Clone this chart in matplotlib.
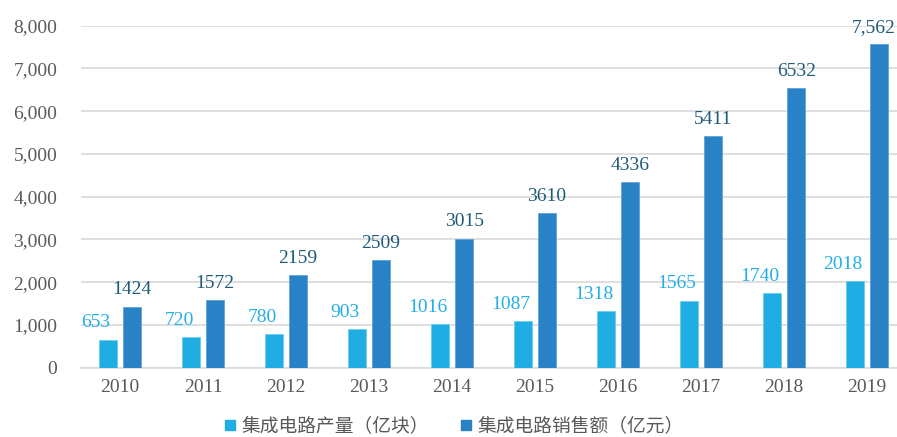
import numpy as np
import matplotlib
matplotlib.use("Agg")
import matplotlib.pyplot as plt
from matplotlib.lines import Line2D

# data
YEARS = ["2010", "2011", "2012", "2013", "2014", "2015", "2016", "2017", "2018", "2019"]
OUTPUT = [653, 720, 780, 903, 1016, 1087, 1318, 1565, 1740, 2018]
SALES = [1424, 1572, 2159, 2509, 3015, 3610, 4336, 5411, 6532, 7562]
SALES_LABELS = ["1424", "1572", "2159", "2509", "3015", "3610", "4336", "5411", "6532", "7,562"]
LEGEND_NAMES = ["集成电路产量（亿块）", "集成电路销售额（亿元）"]
Y_TICKS = [0, 1000, 2000, 3000, 4000, 5000, 6000, 7000, 8000]

LIGHT = "#1FADE4"
DARK = "#2A82C6"
LIGHT_TXT = "#23AEE6"
DARK_TXT = "#1D5B7A"
NUM_FONT = "Liberation Serif"
CJK_FONT = "Noto Sans CJK SC"

fig = plt.figure(figsize=(8.97, 4.37), dpi=100)
ax = fig.add_axes([0.0903, 0.1586, 0.9097, 0.7826])

x = np.arange(len(YEARS))
w = 0.22
off = 0.145
ax.bar(x - off, OUTPUT, width=w, color=LIGHT, edgecolor="#6CCBEF", linewidth=0.6, zorder=3)
ax.bar(x + off, SALES, width=w, color=DARK, edgecolor="#5FA3D8", linewidth=0.6, zorder=3)

# value labels
for i in range(len(YEARS)):
    ax.annotate(str(OUTPUT[i]), (x[i] - 0.29, OUTPUT[i]), xytext=(0, 6), textcoords="offset points",
                ha="center", va="bottom", fontsize=14, color=LIGHT_TXT, family=NUM_FONT)
    # last label sits at the right edge, nudge it in so it is not cut
    dx = -4 if i == len(YEARS) - 1 else 0
    ax.annotate(SALES_LABELS[i], (x[i] + off, SALES[i]), xytext=(dx, 6), textcoords="offset points",
                ha="center", va="bottom", fontsize=14, color=DARK_TXT, family=NUM_FONT,
                annotation_clip=False)

ax.set_xlim(-0.47, 9.36)
ax.set_ylim(0, 8000)
ax.set_yticks(Y_TICKS)
ax.set_yticklabels([f"{v:,}" for v in Y_TICKS], family=NUM_FONT, fontsize=14, color="#595959")
ax.set_xticks(x)
ax.set_xticklabels(YEARS, family=NUM_FONT, fontsize=14, color="#595959")
ax.tick_params(axis="both", length=0)
ax.tick_params(axis="y", pad=17)
ax.tick_params(axis="x", pad=8)

ax.grid(axis="y", color="#D9D9D9", linewidth=1.2, zorder=0)
for side in ["top", "right", "left"]:
    ax.spines[side].set_visible(False)
ax.spines["bottom"].set_color("#D9D9D9")
ax.spines["bottom"].set_linewidth(1.2)

handles = [
    Line2D([], [], marker="s", linestyle="none", markersize=7, color=LIGHT),
    Line2D([], [], marker="s", linestyle="none", markersize=7, color=DARK),
]
fig.legend(handles, LEGEND_NAMES, loc="center", bbox_to_anchor=(0.505, 0.025), ncol=2,
           frameon=False, handlelength=0.8, handletextpad=0.2, columnspacing=1.6,
           prop={"family": CJK_FONT, "size": 13.5}, labelcolor="#595959")

fig.savefig("out.png", dpi=100)
